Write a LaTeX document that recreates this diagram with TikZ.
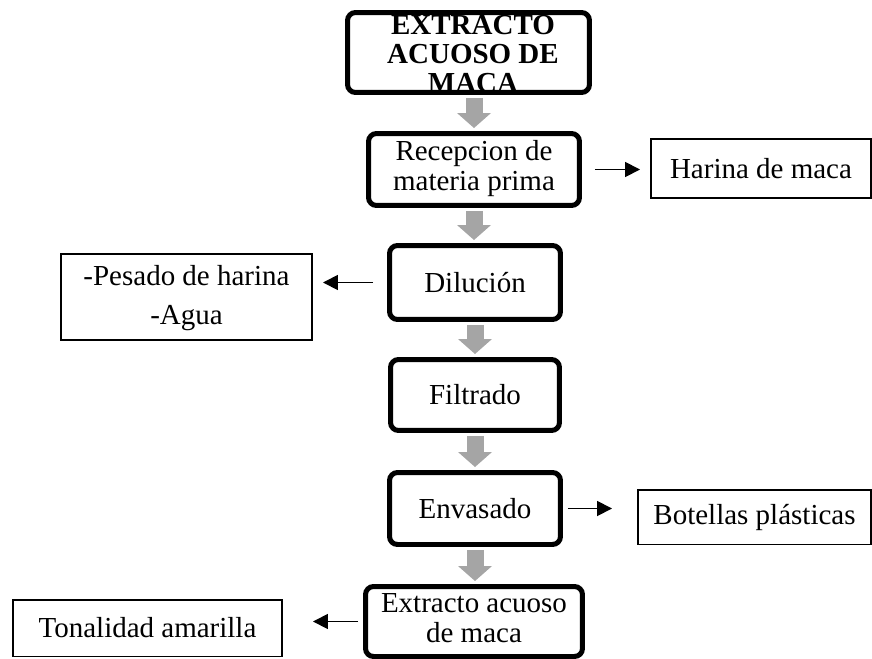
\documentclass[tikz,border=0pt]{standalone}
\usepackage{fontspec}
\setmainfont{Liberation Serif}
\usepackage{tikz}
\usetikzlibrary{arrows.meta,calc}
\definecolor{flowColor}{HTML}{A5A5A5}
\tikzset{
	procBox/.style={draw, line width=0.1cm, rounded corners=0.16cm, inner sep=0},
	sideBox/.style={draw, line width=0.03cm, inner sep=0},
	flowArrow/.style={draw=flowColor, line width=0.34cm, -{Triangle[width=0.68cm,length=0.3cm,line width=0pt]},
			shorten <=0.06cm, shorten >=0.06cm},
	sideArrow/.style={line width=0.035cm, -{Triangle[width=0.3cm,length=0.3cm]}}
}

\begin{document}
\begin{tikzpicture}[x=0.02cm, y=-0.02cm, font=\fontsize{16.5}{17.1}\selectfont]
	\useasboundingbox (0,0) rectangle (872,659);
	\node[procBox, minimum width=4.84cm, minimum height=1.6cm] (titleBox) at (468.5, 52.5) {};
	\node[font=\fontsize{16.5}{16.5}\selectfont\bfseries, inner sep=0] (titleText) at (473, 58) {\begin{tabular}{c} EXTRACTO \\ ACUOSO DE \\ MACA \end{tabular}};
	\node[procBox, minimum width=4.22cm, minimum height=1.44cm] (recep) at (474, 169.5) {\begin{tabular}{c} Recepcion de \\ materia prima \end{tabular}};
	\node[procBox, minimum width=3.42cm, minimum height=1.48cm] (dil) at (475, 282.5) {Dilución};
	\node[procBox, minimum width=3.38cm, minimum height=1.42cm] (filt) at (475, 395) {Filtrado};
	\node[procBox, minimum width=3.42cm, minimum height=1.44cm] (env) at (475, 508.5) {Envasado};
	\node[procBox, minimum width=4.34cm, minimum height=1.40cm] (ext) at (474, 621.5) {\begin{tabular}{c} Extracto acuoso \\ de maca \end{tabular}};
	\node[sideBox, minimum width=4.41cm, minimum height=1.19cm] (harina) at (761, 168.5) {Harina de maca};
	\node[sideBox, minimum width=5.03cm, minimum height=1.73cm, font=\fontsize{16.5}{22.2}\selectfont] (pesado) at (186.5, 297) {\begin{tabular}{c} -Pesado de harina \\ -Agua \end{tabular}};
	\node[sideBox, minimum width=4.67cm, minimum height=1.09cm] (botellas) at (754.5, 517) {Botellas plásticas};
	\node[sideBox, minimum width=5.39cm, minimum height=1.13cm] (tonal) at (147.5, 628) {Tonalidad amarilla};
	\draw[flowArrow] (titleBox.south -| recep.north) -- (recep.north);
	\draw[flowArrow] (recep.south) -- (recep.south |- dil.north);
	\draw[flowArrow] (dil.south) -- (filt.north);
	\draw[flowArrow] (filt.south) -- (env.north);
	\draw[flowArrow] (env.south) -- (env.south |- ext.north);
	\draw[sideArrow, shorten <=0.26cm, shorten >=0.2cm] (recep.east) -- (recep.east -| harina.west);
	\draw[sideArrow, shorten <=0.28cm, shorten >=0.2cm] (dil.west) -- (dil.west -| pesado.east);
	\draw[sideArrow, shorten <=0.1cm, shorten >=0.5cm] (env.east) -- (env.east -| botellas.west);
	\draw[sideArrow, shorten <=0.1cm, shorten >=0.6cm] (ext.west) -- (ext.west -| tonal.east);
\end{tikzpicture}
\end{document}
